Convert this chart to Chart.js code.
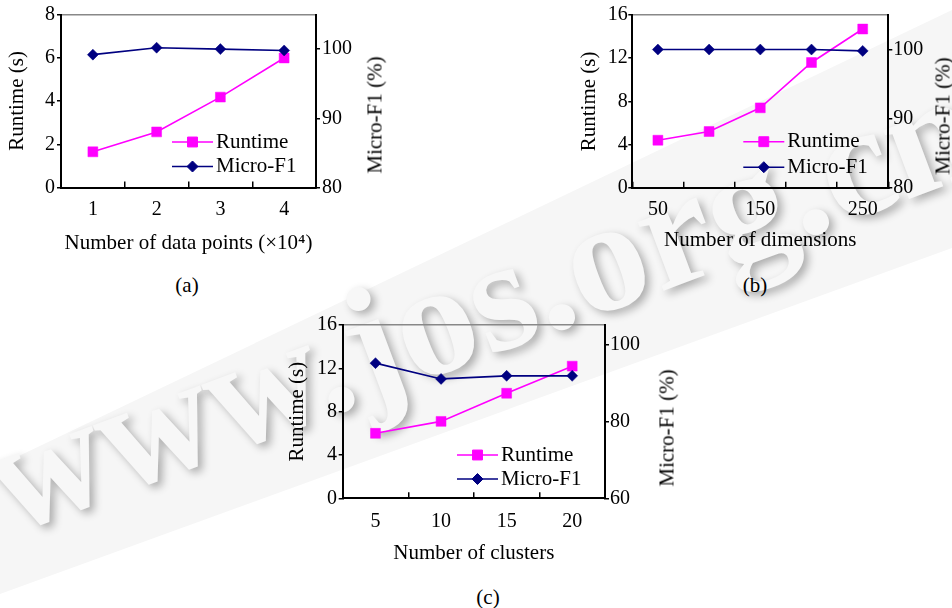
<!DOCTYPE html>
<html>
<head>
<meta charset="utf-8">
<script src="https://cdn.jsdelivr.net/npm/chart.js@4/dist/chart.umd.min.js"></script>
<style>
html,body{margin:0;padding:0;background:#fff;width:952px;height:608px;overflow:hidden;}
#band{position:absolute;left:0;top:0;width:952px;height:608px;background:#f6f6f6;
  clip-path:polygon(0px 465px, 952px 10px, 952px 248px, 0px 594px);}
#wm{position:absolute;left:10px;top:401px;font:bold 160px "Liberation Serif",serif;line-height:160px;
  color:#f7f7f7;white-space:nowrap;transform-origin:0px 134px;transform:rotate(-20.5deg);
  text-shadow:3px 5px 8px rgba(0,0,0,0.30);}
canvas{position:absolute;}
.cap{position:absolute;font:21px "Liberation Serif",serif;color:#000;white-space:nowrap;transform:translate(-50%,-50%);}
.rt{position:absolute;font:21px "Liberation Serif",serif;color:#000;white-space:nowrap;transform:translate(-50%,-50%) rotate(-90deg);}
</style>
</head>
<body>
<div id="band"></div>
<div id="wm">www.jos.org.cn</div>
<canvas id="cA" width="400" height="265" style="left:0px;top:0px;width:400px;height:265px"></canvas>
<canvas id="cB" width="392" height="265" style="left:560px;top:0px;width:392px;height:265px"></canvas>
<canvas id="cC" width="420" height="265" style="left:280px;top:310px;width:420px;height:265px"></canvas>
<div class="rt" style="left:375px;top:115px">Micro-F1 (%)</div>
<div class="rt" style="left:943px;top:116px">Micro-F1 (%)</div>
<div class="rt" style="left:667px;top:428px">Micro-F1 (%)</div>
<div class="cap" style="left:187px;top:285px">(a)</div>
<div class="cap" style="left:755px;top:285px">(b)</div>
<div class="cap" style="left:488px;top:597px">(c)</div>
<script>
// ---- data ----
const pointsCategories = ['1', '2', '3', '4'];
const pointsRuntime = [1.65, 2.57, 4.18, 5.99];
const pointsMicroF1 = [99.2, 100.2, 100.0, 99.8];

const dimCategories = ['50', '100', '150', '200', '250'];
const dimTickLabels = ['50', '', '150', '', '250'];
const dimRuntime = [4.4, 5.2, 7.4, 11.6, 14.7];
const dimMicroF1 = [100.0, 100.0, 100.0, 100.0, 99.8];

const clusterCategories = ['5', '10', '15', '20'];
const clusterRuntime = [6.0, 7.1, 9.7, 12.2];
const clusterMicroF1 = [95.1, 91.0, 91.8, 91.8];

const seriesNames = ['Runtime', 'Micro-F1'];
const xTitles = ['Number of data points (×10⁴)', 'Number of dimensions', 'Number of clusters'];
const yTitle = 'Runtime (s)';

// ---- styling ----
const FONT = '"Liberation Serif", "Times New Roman", serif';
Chart.defaults.font.family = FONT;
Chart.defaults.font.size = 20;
Chart.defaults.color = '#000';
const TITLE_FONT = {family: FONT, size: 21};

const insideLegend = {
  id: 'insideLegend',
  afterDraw(chart, args, opts) {
    const ctx = chart.ctx, ca = chart.chartArea;
    ctx.save();
    chart.data.datasets.forEach((ds, i) => {
      const y = ca.bottom - opts.rows[i];
      const x0 = ca.right - opts.from;
      const x1 = x0 + opts.len;
      ctx.strokeStyle = ds.borderColor;
      ctx.lineWidth = ds.borderWidth;
      ctx.beginPath(); ctx.moveTo(x0, y); ctx.lineTo(x1, y); ctx.stroke();
      ctx.fillStyle = ds.pointBackgroundColor;
      ctx.strokeStyle = ds.pointBorderColor;
      ctx.lineWidth = 1;
      Chart.helpers.drawPoint(ctx, {pointStyle: ds.pointStyle, radius: ds.pointRadius, rotation: 0, borderWidth: 1}, (x0 + x1) / 2, y);
      ctx.fillStyle = '#000';
      ctx.font = '21px ' + FONT;
      ctx.textBaseline = 'middle';
      ctx.textAlign = 'left';
      ctx.fillText(ds.label, x1 + opts.gap, y);
    });
    ctx.restore();
  }
};

function makeChart(id, cats, runtime, f1, c) {
  return new Chart(document.getElementById(id), {
    type: 'line',
    data: {
      labels: cats,
      datasets: [
        {label: seriesNames[0], data: runtime, yAxisID: 'y', order: 2,
         borderColor: '#ff00ff', backgroundColor: '#ff00ff', borderWidth: 1.6,
         pointStyle: 'rect', pointRadius: 7, pointBackgroundColor: '#ff00ff', pointBorderColor: '#ff00ff', pointBorderWidth: 0.5},
        {label: seriesNames[1], data: f1, yAxisID: 'y1', order: 1,
         borderColor: '#000080', backgroundColor: '#000080', borderWidth: 1.6,
         pointStyle: 'rectRot', pointRadius: 5.5, pointBackgroundColor: '#000080', pointBorderColor: '#000080', pointBorderWidth: 0.5}
      ]
    },
    options: {
      responsive: false, animation: false, devicePixelRatio: 1,
      layout: {padding: {top: c.top, left: 0, right: 0, bottom: 0}},
      plugins: {
        legend: {display: false}, tooltip: {enabled: false},
        insideLegend: {from: c.legFrom, len: 41, gap: 3, rows: c.legRows}
      },
      elements: {line: {tension: 0}},
      scales: {
        x: {
          type: 'category', position: 'bottom', offset: true,
          grid: {display: true, drawOnChartArea: false, drawTicks: true, tickLength: -6, offset: true, color: '#000', lineWidth: 1.5},
          border: {display: true, color: '#000', width: 2},
          ticks: {autoSkip: false, maxRotation: 0, padding: c.xPad,
                  callback: (v, i) => c.tickLabels ? c.tickLabels[i] : cats[i]},
          title: {display: true, text: c.xTitle, font: TITLE_FONT, padding: {top: 0, bottom: c.xTitlePad}},
          afterFit: s => { s.height = c.xH; }
        },
        xTop: {
          type: 'category', position: 'top', offset: true,
          grid: {display: false, drawTicks: false},
          border: {display: true, color: '#888', width: 1.5},
          ticks: {display: false},
          afterFit: s => { s.height = 0; }
        },
        y: {
          position: 'left', min: 0, max: c.yMax,
          grid: {display: true, drawOnChartArea: false, drawTicks: true, tickLength: 4, color: '#000', lineWidth: 1.5},
          border: {display: true, color: '#000', width: 2},
          ticks: {stepSize: c.yStep, padding: c.yPad},
          title: {display: true, text: yTitle, font: TITLE_FONT, padding: {top: c.yTitlePad, bottom: 0}},
          afterFit: s => { s.width = c.yW; }
        },
        y1: {
          position: 'right', min: c.y1Min, max: 105,
          grid: {display: true, drawOnChartArea: false, drawTicks: true, tickLength: 4, color: '#000', lineWidth: 1.5},
          border: {display: true, color: '#000', width: 2},
          ticks: {stepSize: c.y1Step, includeBounds: false, padding: c.y1Pad},
          afterFit: s => { s.width = c.y1W; }
        }
      }
    },
    plugins: [insideLegend]
  });
}

makeChart('cA', pointsCategories, pointsRuntime, pointsMicroF1, {
  top: 14.5, yW: 61, y1W: 84, xH: 77.5, yMax: 8, yStep: 2, y1Min: 80, y1Step: 10,
  xPad: 16.5, xTitlePad: 9.4, yTitlePad: 4.9, yPad: 2, y1Pad: 2,
  xTitle: xTitles[0], legFrom: 144, legRows: [45.5, 21]
});
makeChart('cB', dimCategories, dimRuntime, dimMicroF1, {
  top: 15, yW: 72.3, y1W: 63.7, xH: 77.3, yMax: 16, yStep: 4, y1Min: 80, y1Step: 10,
  xPad: 16.3, xTitlePad: 12.4, yTitlePad: 16.4, yPad: 0.5, y1Pad: 1,
  xTitle: xTitles[1], tickLabels: dimTickLabels, legFrom: 145, legRows: [46, 20.5]
});
makeChart('cC', clusterCategories, clusterRuntime, clusterMicroF1, {
  top: 15, yW: 62.7, y1W: 95, xH: 76.7, yMax: 16, yStep: 4, y1Min: 60, y1Step: 20,
  xPad: 17.7, xTitlePad: 9.4, yTitlePad: 4.4, yPad: 1.7, y1Pad: 1,
  xTitle: xTitles[2], legFrom: 148, legRows: [43.3, 19.3]
});
</script>
</body>
</html>
